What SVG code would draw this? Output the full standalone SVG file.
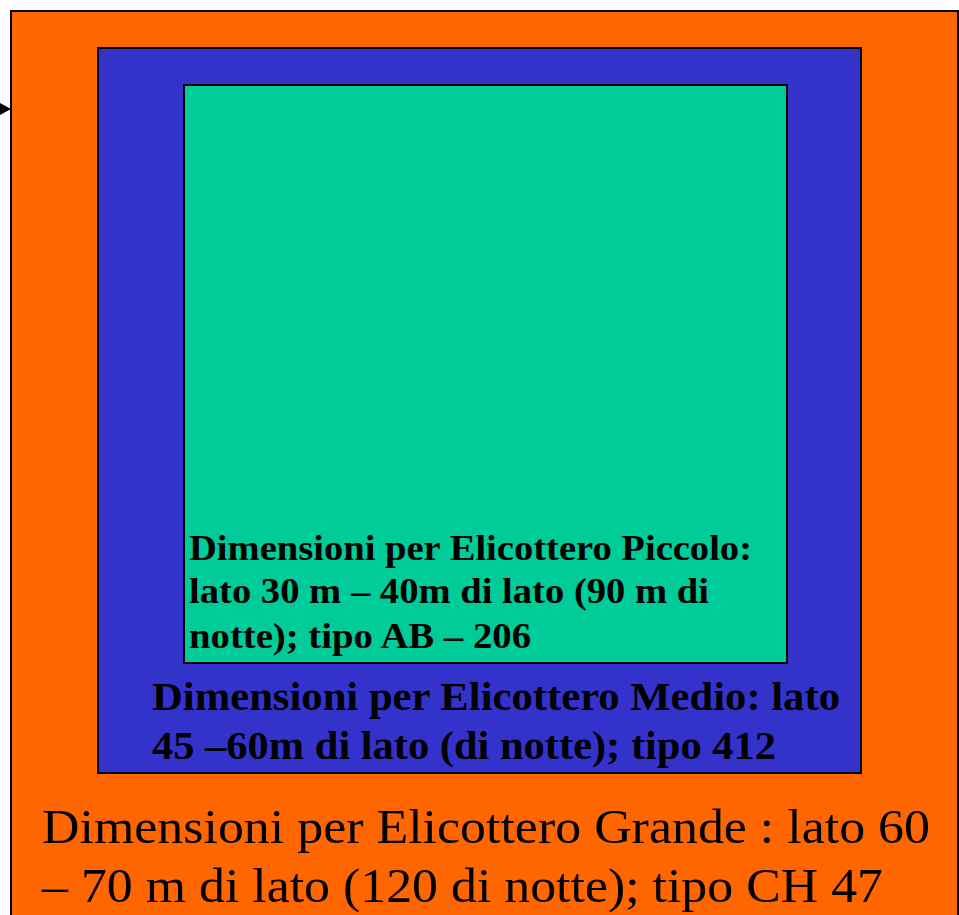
<svg xmlns="http://www.w3.org/2000/svg" width="959" height="915" viewBox="0 0 959 915">
<style>
.box{stroke:#000;stroke-width:2}
.b{font-family:"Liberation Serif","Times New Roman",serif;font-weight:bold;fill:#000}
.r{font-family:"Liberation Serif","Times New Roman",serif;fill:#000}
</style>
<defs>
<marker id="ah" markerWidth="12" markerHeight="12" refX="11" refY="6" orient="auto" markerUnits="userSpaceOnUse">
<path d="M0,0 L11,6 L0,12 Z" fill="#000"/>
</marker>
</defs>
<rect width="959" height="915" fill="#fff"/>
<g id="grande">
<rect class="box" x="11" y="11" width="947" height="910" fill="#ff6600"/>
<text class="r" font-size="48"><tspan x="42" y="843" textLength="888" lengthAdjust="spacingAndGlyphs">Dimensioni per Elicottero Grande : lato 60</tspan><tspan x="42" y="902" textLength="841" lengthAdjust="spacingAndGlyphs">– 70 m di lato (120 di notte); tipo CH 47</tspan></text>
</g>
<g id="medio">
<rect class="box" x="98" y="48" width="763" height="725" fill="#3333cc"/>
<text class="b" font-size="40"><tspan x="152" y="710" textLength="688" lengthAdjust="spacingAndGlyphs">Dimensioni per Elicottero Medio: lato</tspan><tspan x="152" y="759" textLength="624" lengthAdjust="spacingAndGlyphs">45 –60m di lato (di notte); tipo 412</tspan></text>
</g>
<g id="piccolo">
<rect class="box" x="184" y="85" width="603" height="578" fill="#00cc99"/>
<text class="b" font-size="36"><tspan x="189" y="560" textLength="563" lengthAdjust="spacingAndGlyphs">Dimensioni per Elicottero Piccolo:</tspan><tspan x="189" y="603" textLength="520" lengthAdjust="spacingAndGlyphs">lato 30 m – 40m di lato (90 m di</tspan><tspan x="189" y="648" textLength="342" lengthAdjust="spacingAndGlyphs">notte); tipo AB – 206</tspan></text>
</g>
<g id="connectors">
<line x1="-20" y1="109" x2="11" y2="109" stroke="#000" stroke-width="2" marker-end="url(#ah)"/>
</g>
</svg>
